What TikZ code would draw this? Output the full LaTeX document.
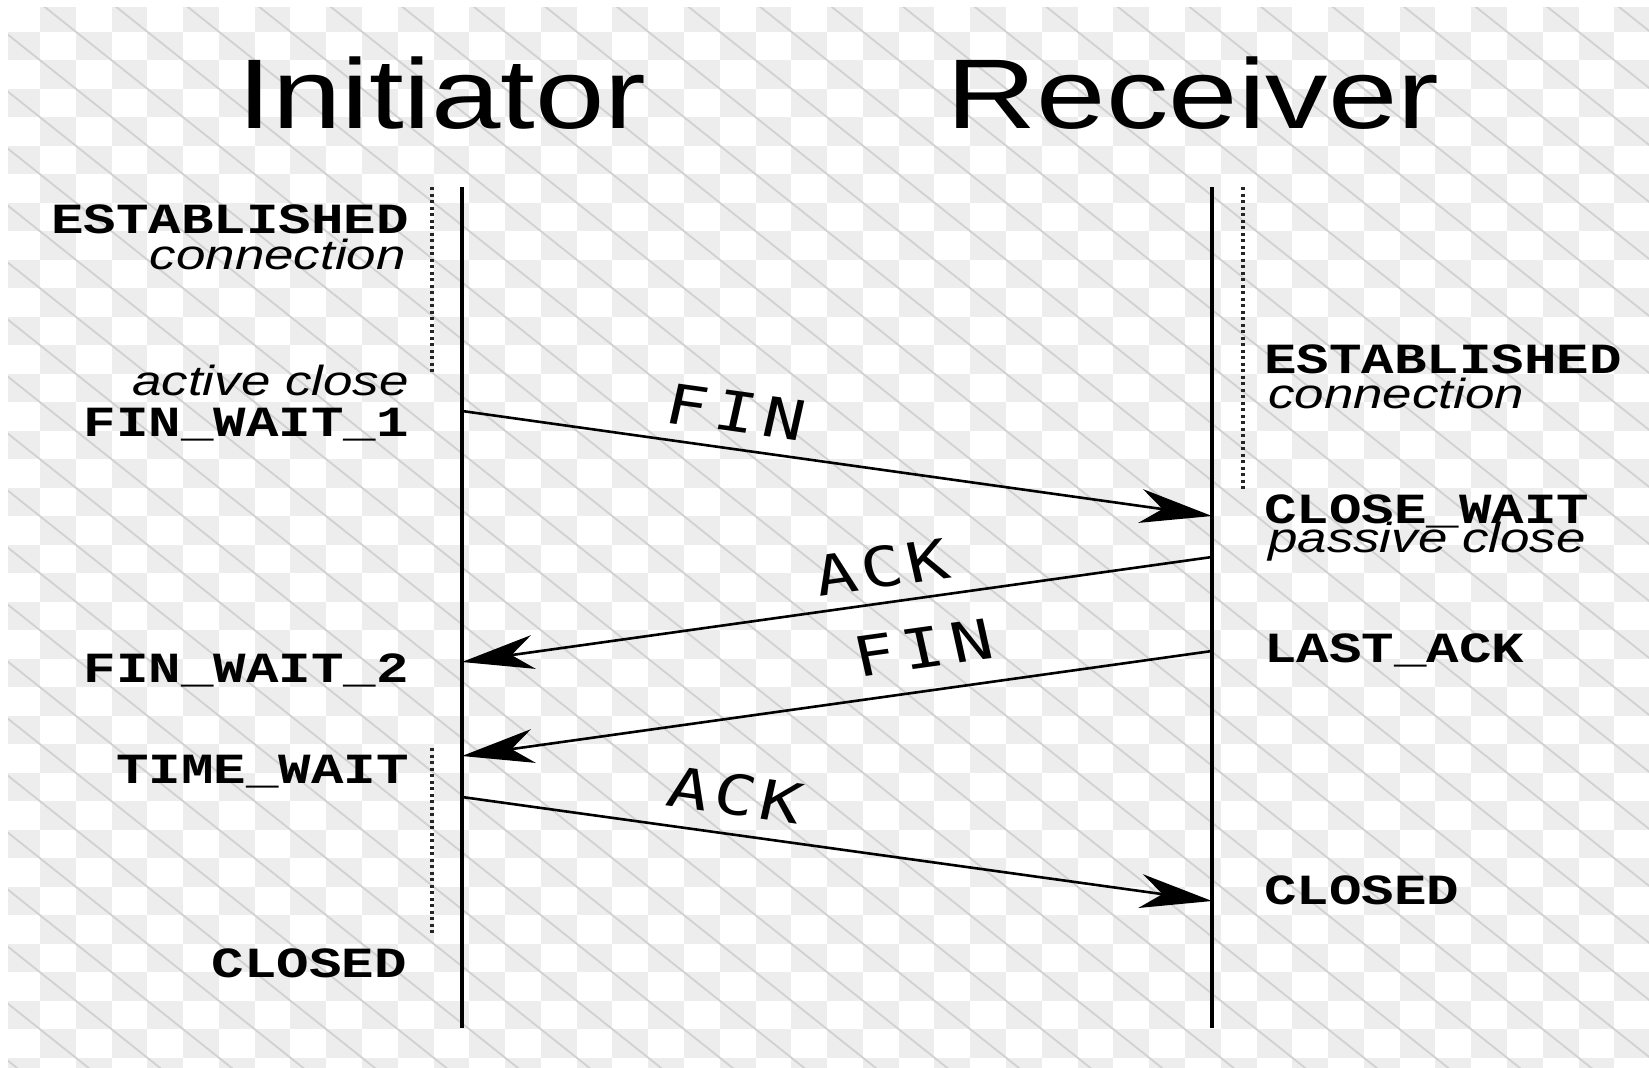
\documentclass[tikz,border=0pt]{standalone}
\usepackage{fontspec}
\usepackage{graphicx}
\setmainfont{Liberation Sans}
\newfontfamily\statefont{Liberation Mono}
\newfontfamily\msgfont{DejaVu Sans Mono}
\usetikzlibrary{arrows.meta}
\newcommand\sx[1]{\scalebox{1.26}[1]{#1}}
\begin{document}
\begin{tikzpicture}[x=1pt,y=-1pt,
  cell/.style={fill=black!7},
  diag/.style={draw=black!18, line width=1.8pt},
  lifeline/.style={line width=3.4pt, black},
  msg/.style={line width=2.6pt, black, -{Stealth[length=72pt,width=34pt,inset=22pt]}},
  dots/.style={line width=3.6pt, dash pattern=on 3pt off 3.5pt, black!85},
  statel/.style={inner sep=0pt, anchor=base east, font=\statefont\bfseries\fontsize{43}{45}\selectfont},
  stater/.style={inner sep=0pt, anchor=base west, font=\statefont\bfseries\fontsize{43}{45}\selectfont},
  notel/.style={inner sep=0pt, anchor=base east, font=\itshape\fontsize{42}{44}\selectfont},
  noter/.style={inner sep=0pt, anchor=base west, font=\itshape\fontsize{42}{44}\selectfont},
  title/.style={inner sep=0pt, anchor=base, font=\fontsize{99}{103}\selectfont},
  lbl/.style={inner sep=0pt, anchor=center, font=\msgfont\fontsize{55}{57}\selectfont}]
\useasboundingbox (0,0) rectangle (1649,1068);
\fill[white] (0,0) rectangle (1649,1068);
% transparency checkerboard background
\begin{scope}
  \clip (8,7) rectangle (1649,1068);
  \foreach \j in {0,...,37}{
    \pgfmathtruncatemacro\istart{mod(\j+1,2)}
    \pgfmathtruncatemacro\inext{\istart+2}
    \foreach \i in {\istart,\inext,...,46}{
      \fill[cell] ({4.2+\i*35.78},{3.2+\j*28.5}) rectangle ++(35.78,28.5);
    }
  }
  \foreach \k in {-39,-37,...,45}{
    \draw[diag] ({4.2+\k*35.78},3.2) -- ++(1431.2,1140);
  }
\end{scope}

% titles
\node[title] (tinit) at (442,128) {\sx{Initiator}};
\node[title] (trecv) at (1193,128) {\sx{Receiver}};

% lifelines
\coordinate (Itop) at (462,187);
\coordinate (Ibot) at (462,1028);
\coordinate (Rtop) at (1212,187);
\coordinate (Rbot) at (1212,1028);
\draw[lifeline] (Itop) -- (Ibot);
\draw[lifeline] (Rtop) -- (Rbot);

% dotted state intervals
\coordinate (d1a) at (432,187);
\coordinate (d1b) at (432,372);
\coordinate (d2a) at (432,748);
\coordinate (d2b) at (432,933);
\coordinate (d3a) at (1243,187);
\coordinate (d3b) at (1243,490);
\draw[dots] (d1a) -- (d1b);
\draw[dots] (d2a) -- (d2b);
\draw[dots] (d3a) -- (d3b);

% message end points
\coordinate (f1s) at (462,411);
\coordinate (f1e) at (1212,516);
\coordinate (a1s) at (1212,557);
\coordinate (a1e) at (462,662);
\coordinate (f2s) at (1212,651);
\coordinate (f2e) at (462,756);
\coordinate (a2s) at (462,797);
\coordinate (a2e) at (1212,901);
\draw[msg] (f1s) -- (f1e);
\draw[msg] (a1s) -- (a1e);
\draw[msg] (f2s) -- (f2e);
\draw[msg] (a2s) -- (a2e);

% message labels
\node[lbl] (lf1) at (736,412) {\sx{\rotatebox{-10}{F\kern6pt I\kern6pt N}}};
\node[lbl] (la1) at (882,567) {\sx{\rotatebox{10}{A\kern4pt C\kern4pt K}}};
\node[lbl] (lf2) at (923,648) {\sx{\rotatebox{10}{F\kern6pt I\kern6pt N}}};
\node[lbl] (la2) at (735,795) {\sx{\rotatebox{-10}{A\kern4pt C\kern4pt K}}};

% initiator states
\node[statel] (ie) at (409,233) {\sx{ESTABLISHED}};
\node[notel] (ic) at (406,269) {\sx{connection}};
\node[notel] (iac) at (409,395) {\sx{active close}};
\node[statel] (ifw1) at (409,436) {\sx{FIN\_WAIT\_1}};
\node[statel] (ifw2) at (409,682) {\sx{FIN\_WAIT\_2}};
\node[statel] (itw) at (409,783) {\sx{TIME\_WAIT}};
\node[statel] (icl) at (407,977) {\sx{CLOSED}};

% receiver states
\node[stater] (re) at (1264,373) {\sx{ESTABLISHED}};
\node[noter] (rc) at (1268,408) {\sx{connection}};
\node[stater] (rcw) at (1264,523) {\sx{CLOSE\_WAIT}};
\node[noter] (rpc) at (1268,552) {\sx{passive close}};
\node[stater] (rla) at (1264,662) {\sx{LAST\_ACK}};
\node[stater] (rcl) at (1264,904) {\sx{CLOSED}};
\end{tikzpicture}
\end{document}
